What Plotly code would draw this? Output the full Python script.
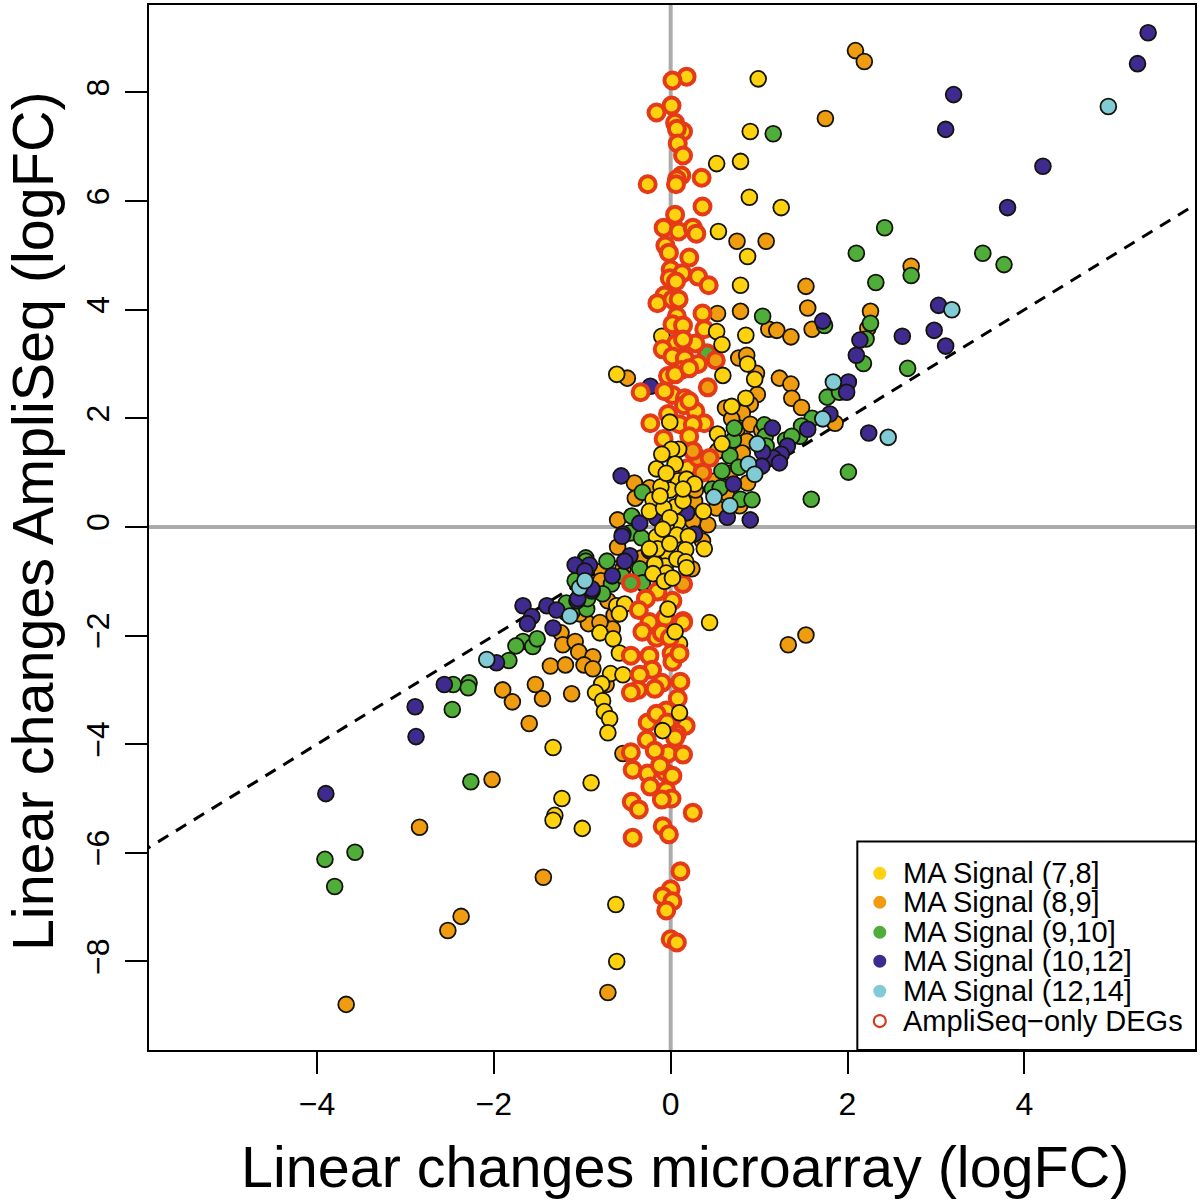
import plotly.graph_objects as go

# (microarray logFC, AmpliSeq logFC)
ring_yellow = [(.18,8.29),(.02,8.22),(.01,7.76),(-.16,7.63),(.05,7.44),(.14,7.28),(.07,7.33),(.08,7.06),(.14,6.84),
 (.12,6.47),(.07,6.4),(.06,6.31),(-.26,6.31),(.35,6.43),(.36,5.9),(.05,5.75),(-.08,5.51),(.09,5.44),(.25,5.51),(.29,5.4),
 (-.06,5.18),(-.02,5.05),(.21,4.96),(0,4.74),(.13,4.67),(-.01,4.58),(.06,4.52),(.31,4.61),(.43,4.45),(-.07,4.26),(-.15,4.12),
 (.02,4.19),(.09,4.19),(.07,3.88),(.36,3.93),(.02,3.73),(.14,3.71),(.38,3.64),(.06,3.38),(-.09,3.27),(.28,3.38),(.14,3.45),
 (.02,3.14),(.16,3.1),(.31,3.0),(.12,2.89),(-.03,2.78),(.05,2.81),(.21,2.92),(-.34,2.48),(.02,2.43),(-.07,2.5),(.16,2.37),
 (-.23,1.91),(-.08,1.62),(.15,2.24),(.28,2.13),(.38,1.91),(.21,2.32),(-.03,2.08),(.1,1.89),(.25,1.89),(.21,1.67),(.19,1.08),
 (.02,-1.36),(-.15,-1.19),(-.28,-1.32),(-.36,-1.53),(-.06,-1.67),(.14,-1.73),(-.24,-1.75),(-.32,-1.93),(.14,-1.76),(-.16,-2.04),
 (-.1,-1.95),(-.01,-2.04),(-.45,-2.37),(-.24,-2.37),(.01,-2.33),(.02,-2.48),(.1,-2.33),(-.21,-2.63),(-.35,-2.72),(-.1,-2.87),
 (.11,-2.85),(-.37,-3.0),(-.45,-3.05),(-.18,-2.98),(.08,-3.16),(-.05,-3.38),(-.26,-3.6),(-.16,-3.44),(-.04,-3.6),(.17,-3.66),
 (-.27,-3.92),(.07,-3.81),(.05,-3.88),(-.03,-4.17),(.14,-4.19),(-.45,-4.15),(-.43,-4.47),(-.26,-4.54),(-.06,-4.52),(.02,-4.58),
 (-.18,-4.12),(-.12,-4.39),(-.23,-4.78),(-.05,-4.85),(.01,-5.0),(-.1,-5.02),(-.44,-5.06),(-.36,-5.2),(.25,-5.26),(-.09,-5.51),
 (-.02,-5.66),(-.43,-5.72),(.11,-6.34),(0,-6.67),(-.09,-6.8),(.02,-6.89),(-.05,-7.06),(0,-7.59),(.07,-7.65)]
ring_orange = [(.42,2.57),(.51,3.07),(.31,1.27),(.36,1.0),(.25,1.4),(.44,1.27),(.14,-1.05)]
ring_green = [(.41,3.2),(-.45,-1.03)]

orange = [(2.09,8.77),(2.19,8.57),(1.75,7.52),(1.08,5.26),(.75,5.26),(2.72,4.8),(1.53,4.43),(1.55,4.03),(2.26,3.97),(2.23,3.66),
 (.79,3.97),(.53,3.93),(1.11,3.64),(1.2,3.62),(1.36,3.5),(.77,3.11),(.86,3.16),(.97,2.83),(1.23,2.74),(1.36,2.63),(1.37,2.37),
 (.98,2.44),(1.6,3.64),(1.48,2.2),(1.86,1.91),(.62,2.19),(.9,2.26),(.81,2.1),(.69,1.99),(.75,1.8),(.9,1.89),(1.03,1.78),(.86,1.58),
 (.81,1.36),(.53,1.4),(.67,.99),(.87,.81),(.51,.85),(.63,.63),(.78,.39),(.52,.35),(.42,.04),(.27,.48),(.28,.68),(.25,.11),(-.41,.81),
 (-.4,.53),(-.24,.72),(-.6,.13),(-.6,-.37),(-.49,2.74),(.36,-.26),(-.78,-.81),(-.54,-.77),(-.33,-.57),(.24,-.77),(-.64,-1.62),
 (-.66,-1.88),(-.93,-1.78),(-.8,-1.76),(-1.03,-1.6),(-1.24,-1.95),(-1.22,-2.17),(-1.08,-2.11),(-1.04,-2.3),(-.88,-2.39),(-1.36,-2.56),
 (-1.19,-2.54),(-.98,-2.54),(-.88,-2.61),(-.73,-2.9),(-1.9,-3.0),(-1.53,-2.9),(-1.79,-3.22),(-1.45,-3.16),(-1.12,-3.07),(-1.6,-3.62),
 (-2.02,-4.65),(-2.84,-5.53),(-1.44,-6.45),(-2.37,-7.17),(-2.52,-7.43),(-.71,-8.57),(1.33,-2.17),(1.53,-1.99),(-3.67,-8.79),
 (-.71,-1.36),(-.79,-.99),(-.54,-4.17)]
green = [(1.16,7.24),(2.42,5.51),(2.1,5.04),(2.32,4.5),(2.72,4.63),(3.53,5.04),(3.77,4.83),(1.04,3.88),(1.74,3.71),(2.26,3.75),
 (2.21,3.46),(2.18,3.01),(2.68,2.92),(2.01,1.01),(1.59,.51),(1.77,2.39),(1.91,2.48),(1.6,2.0),(1.46,1.67),(1.48,1.86),(1.3,1.6),
 (1.37,1.67),(1.06,1.88),(1.07,1.67),(.71,1.6),(1.08,1.49),(.67,1.31),(.77,1.1),(.58,1.03),(.72,1.82),(.79,.51),(.92,.5),(.47,.7),
 (.56,.72),(-.32,.64),(-.44,.2),(-.46,-.11),(-.33,-.2),(-.35,-.77),(-.67,-1.05),(-.72,-.63),(-.77,-1.23),(-.95,-1.51),(-.96,-.57),
 (-.32,-1.03),(-1.12,-1.58),(-.55,-.9),(-.96,-.63),(-1.18,-1.58),(-1.18,-1.4),(-.94,-1.32),(-1.08,-.99),(-1.67,-2.11),(-1.56,-2.2),
 (-1.75,-2.19),(-1.51,-2.06),(-1.83,-2.46),(-2.46,-2.9),(-2.28,-2.87),(-2.29,-2.96),(-2.47,-3.36),(-2.26,-4.69),(-3.91,-6.12),
 (-3.8,-6.62),(-3.57,-5.99)]
purple = [(5.4,9.1),(5.28,8.53),(3.2,7.96),(3.11,7.32),(4.21,6.64),(3.81,5.88),(3.03,4.08),(2.98,3.62),(2.62,3.51),(3.11,3.33),
 (2.14,3.44),(2.1,3.16),(1.72,3.79),(2.24,1.73),(2.01,2.67),(1.99,2.48),(1.8,2.08),(1.55,1.8),(1.32,1.49),(1.25,1.34),(1.16,1.27),
 (1.23,1.18),(1.04,1.38),(1.03,1.12),(1.15,1.82),(.71,.79),(.64,.18),(.9,.13),(-.23,2.59),(-.56,.94),(.18,.26),(-.16,.17),(-.35,.07),
 (-.54,-.13),(-.55,-.17),(-.46,-.53),(-.52,-.63),(-.92,-.7),(-1.08,-.7),(-.97,-.81),(-.89,-1.18),(-1.06,-1.36),(-.24,-.44),(.27,-.13),
 (-.66,-.9),(-1.05,-1.32),(-.89,-1.14),(-1.67,-1.45),(-1.57,-1.65),(-1.62,-1.78),(-1.4,-1.45),(-1.29,-1.53),(-1.33,-1.86),(-1.97,-2.5),
 (-2.56,-2.9),(-2.89,-3.31),(-2.88,-3.86),(-3.9,-4.91)]
cyan = [(4.95,7.74),(3.18,4.0),(1.84,2.67),(2.46,1.65),(1.72,1.99),(.88,1.16),(.49,.55),(.67,.39),(.98,1.53),(.95,.97),
 (-2.08,-2.44),(-1.03,-1.12),(-.97,-.99),(-1.14,-1.64)]
yellow = [(.99,8.25),(.9,7.28),(.79,6.73),(.52,6.69),(.89,6.07),(1.25,5.88),(.54,5.44),(.87,4.98),(.79,4.45),(.85,3.53),(.52,3.6),
 (.58,3.36),(.59,2.79),(.87,3.0),(.95,2.72),(.85,2.37),(.69,2.22),(-.61,2.81),(-.01,1.93),(.53,1.71),(.58,1.53),(.09,1.43),
 (.01,1.43),(-.16,1.07),(.05,1.16),(-.1,1.34),(.09,.85),(-.01,.68),(-.11,.74),(-.2,.5),(.05,.37),(.37,.29),(.08,.09),(-.05,.04),
 (-.16,-.18),(.07,-.15),(.2,-.17),(.17,-.42),(.38,-.4),(-.05,-.46),(-.06,-.72),(.07,-.59),(.17,-.64),(-.18,-.68),(-.05,-.85),(-.15,-.4),
 (-.24,.29),(-.08,.35),(-.01,.17),(.14,.48),(.18,.88),(.27,.79),(-.01,-.31),(-.2,-.86),(-.07,-1.0),(-.05,.99),(.14,.7),(-.12,.57),
 (-.09,-.04),(-.24,-.4),(.18,-.75),(.02,-.94),(.44,-1.76),(.05,-1.93),(.1,-3.42),(-.09,-3.75),(-.03,-1.51)]
yellow_back = [(-.1,3.51),(-.61,-1.45),(-.52,-1.42),(-.58,-1.6),(-.8,-1.95),(-.65,-2.06),(-.58,-2.32),(-.68,-2.7),
 (-.54,-2.72),(-.78,-2.89),(-.85,-3.05),(-.77,-3.2),(-.75,-3.4),(-.69,-3.53),(-.71,-3.79),(-1.33,-4.06),(.1,-2.15),
 (-.9,-4.71),(-1.0,-5.55),(-1.23,-5.0),(-1.31,-5.31),(-1.33,-5.4),(-.62,-6.95),(-.61,-8.0)]

tick_x = [-4, -2, 0, 2, 4]
tick_y = [-8, -6, -4, -2, 0, 2, 4, 6, 8]
legend_labels = ["MA Signal (7,8]", "MA Signal (8,9]", "MA Signal (9,10]", "MA Signal (10,12]", "MA Signal (12,14]", "AmpliSeq\u2212only DEGs"]

YELLOW, ORANGE, GREEN, PURPLE, CYAN = "#FFD20F", "#F09C10", "#4FAE3A", "#3F2B8F", "#80CBD6"
RING = "#E53A17"
legend_colors = [YELLOW, ORANGE, GREEN, PURPLE, CYAN]
FONT = "Liberation Sans"

fig = go.Figure()
# reference lines
fig.add_trace(go.Scatter(x=[-6, 6], y=[0, 0], mode="lines", line=dict(color="#ABABAB", width=4), hoverinfo="skip"))
fig.add_trace(go.Scatter(x=[0, 0], y=[-10, 10], mode="lines", line=dict(color="#ABABAB", width=4), hoverinfo="skip"))
fig.add_trace(go.Scatter(x=[-6, 6], y=[-6, 6], mode="lines", line=dict(color="black", width=3, dash="12px,9px"), hoverinfo="skip"))

def add(points, fill, ring=False):
    fig.add_trace(go.Scatter(
        x=[p[0] for p in points], y=[p[1] for p in points], mode="markers",
        marker=dict(size=16 if ring else 15.8, color=fill,
                    line=dict(color=RING if ring else "#14140A", width=4 if ring else 1.8)),
    ))

add(orange, ORANGE)
add(green, GREEN)
add(purple, PURPLE)
add(cyan, CYAN)
add(yellow_back, YELLOW)
add(ring_green, GREEN, True)
add(ring_yellow, YELLOW, True)
add(ring_orange, ORANGE, True)
add(yellow, YELLOW)

L, R, T, B = 149.0, 1196.0, 3.0, 1050.0
def px(x): return (x - L) / (R - L)
def py(y): return (B - y) / (B - T)

shapes = [dict(type="rect", xref="paper", yref="paper", x0=px(858), x1=px(1197), y0=py(1050), y1=py(841),
               fillcolor="white", line=dict(color="black", width=2), layer="above")]
annotations = [
    dict(text="Linear changes microarray (logFC)", xref="paper", yref="paper", x=px(686), y=py(1167), xanchor="center", yanchor="middle",
         showarrow=False, font=dict(family=FONT, size=57.5, color="black")),
    dict(text="Linear changes AmpliSeq (logFC)", xref="paper", yref="paper", x=px(33), y=py(520), xanchor="center", yanchor="middle",
         textangle=-90, showarrow=False, font=dict(family=FONT, size=57.5, color="black")),
]
rows = [873, 902, 932, 961, 991, 1021]
for i, (lab, yy) in enumerate(zip(legend_labels, rows)):
    r = 6.5
    if i < 5:
        shapes.append(dict(type="circle", xref="paper", yref="paper", x0=px(880.5-r), x1=px(880.5+r), y0=py(yy+r), y1=py(yy-r),
                           fillcolor=legend_colors[i], line=dict(width=0), layer="above"))
    else:
        shapes.append(dict(type="circle", xref="paper", yref="paper", x0=px(880.5-6), x1=px(880.5+6), y0=py(yy+6), y1=py(yy-6),
                           fillcolor="white", line=dict(color="#D83A20", width=2.2), layer="above"))
    annotations.append(dict(text=lab, xref="paper", yref="paper", x=px(902), y=py(yy), xanchor="left", yanchor="middle",
                            showarrow=False, font=dict(family=FONT, size=29, color="black")))

axis = dict(showgrid=False, zeroline=False, showline=True, mirror=True, linecolor="black", linewidth=2,
            ticks="outside", ticklen=22, tickwidth=2, tickcolor="black", tickfont=dict(family=FONT, size=32, color="black"),
            ticklabelstandoff=3)
fig.update_layout(
    width=1200, height=1203, showlegend=False, plot_bgcolor="white", paper_bgcolor="white",
    margin=dict(l=149, r=4, t=3, b=153), shapes=shapes, annotations=annotations,
    xaxis=dict(axis, range=[-5.9, 5.93], tickvals=tick_x),
    yaxis=dict(axis, range=[-9.63, 9.61], tickvals=tick_y, tickangle=-90),
)
fig.write_html("out.html", config={"displayModeBar": False},
               post_script="document.body.style.margin='0';document.documentElement.style.overflow='hidden';")
